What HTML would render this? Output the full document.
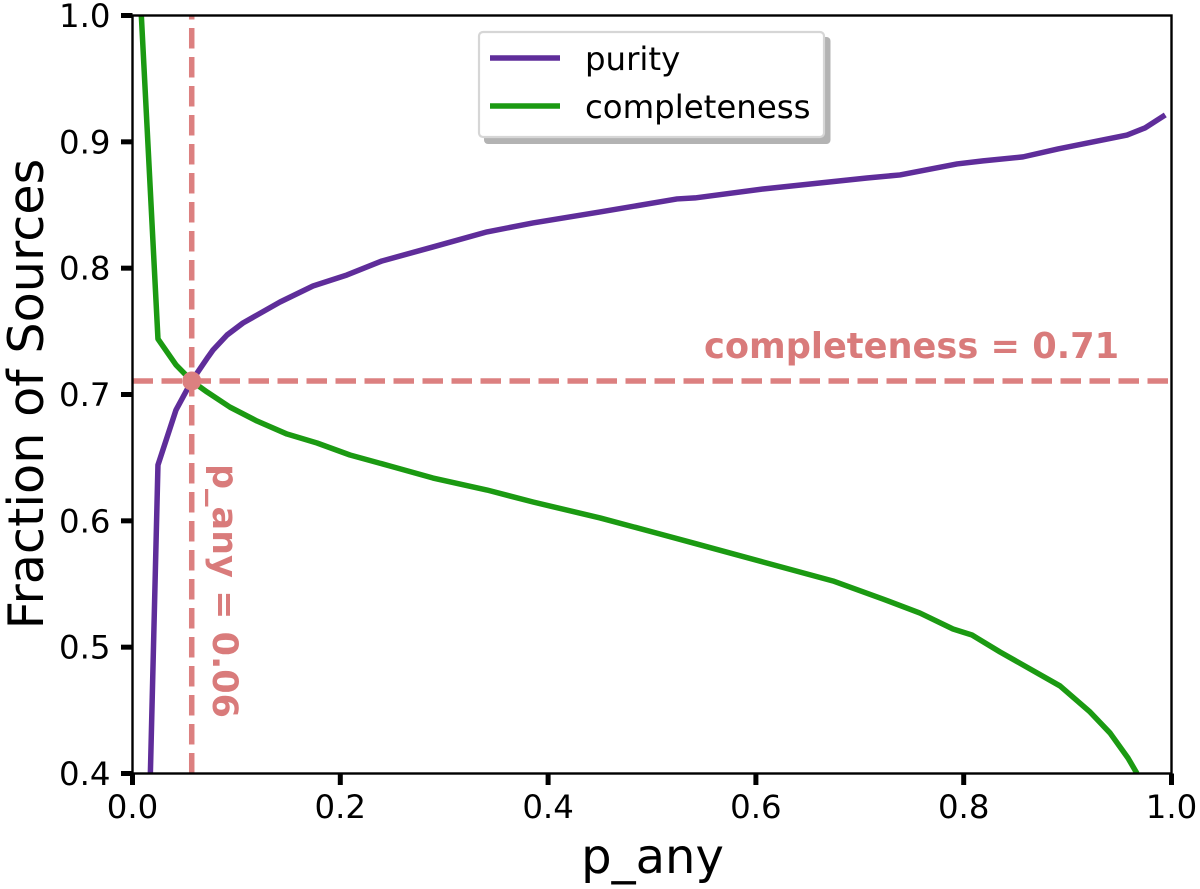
<!DOCTYPE html>
<html>
<head>
<meta charset="utf-8">
<style>
html,body{margin:0;padding:0;background:#fff;}
svg{display:block;}
text{font-family:"DejaVu Sans","Liberation Sans",sans-serif;fill:#000;}
</style>
</head>
<body>
<svg id="chart" xmlns="http://www.w3.org/2000/svg" width="1200" height="889" viewBox="0 0 1200 889">
  <defs><clipPath id="plot-clip"><rect x="132.5" y="15.5" width="1039" height="758"/></clipPath></defs>
  <rect x="0" y="0" width="1200" height="889" fill="#fff"/>
  <g id="marks" clip-path="url(#plot-clip)"></g>
  <g id="ticks"></g>
  <rect x="132.5" y="15.5" width="1039" height="758" fill="none" stroke="#000" stroke-width="2.4"/>
  <text x="652.5" y="873" font-size="48" text-anchor="middle">p_any</text>
  <text transform="translate(43,394) rotate(-90)" font-size="49.3" text-anchor="middle">Fraction of Sources</text>
  <text x="704" y="358" font-size="35.2" font-weight="700" style="fill:#d97b7b">completeness = 0.71</text>
  <text transform="translate(213,464) rotate(90)" font-size="35" font-weight="700" style="fill:#d97b7b">p_any = 0.06</text>
  <g>
    <rect x="484" y="37" width="346.5" height="107" rx="4" fill="#b3b3b3"/>
    <rect x="479" y="32" width="345" height="105" rx="4" fill="#fff" stroke="#d6d6d6" stroke-width="2.2"/>
    <line x1="490" y1="58" x2="560" y2="58" stroke="#5f2d9a" stroke-width="5.5"/>
    <text x="585" y="70" font-size="32.4">purity</text>
    <line x1="490" y1="106" x2="560" y2="106" stroke="#1b9a12" stroke-width="5.5"/>
    <text x="585" y="118" font-size="32.4">completeness</text>
  </g>
</svg>
<script>
const xTickValues = [0.0, 0.2, 0.4, 0.6, 0.8, 1.0];
const yTickValues = [0.4, 0.5, 0.6, 0.7, 0.8, 0.9, 1.0];
const purityX = [0.0172, 0.0245, 0.0419, 0.057, 0.0727, 0.0775, 0.091, 0.1063, 0.142, 0.1737, 0.2064, 0.2401, 0.2892, 0.3412, 0.3855, 0.45, 0.5241, 0.5414, 0.6068, 0.7069, 0.7387, 0.7936, 0.8186, 0.8571, 0.8908, 0.9572, 0.9745, 0.994];
const purityY = [0.40, 0.6442, 0.6878, 0.7107, 0.7297, 0.7352, 0.7471, 0.7566, 0.7732, 0.7859, 0.7946, 0.8057, 0.8168, 0.8287, 0.8358, 0.8445, 0.8548, 0.8556, 0.8627, 0.8714, 0.8738, 0.8825, 0.8849, 0.8881, 0.8944, 0.9054, 0.911, 0.9213];
const completenessX = [0.0085, 0.0245, 0.0419, 0.057, 0.0717, 0.0938, 0.1198, 0.1487, 0.1776, 0.2093, 0.2478, 0.2892, 0.3412, 0.3855, 0.45, 0.5077, 0.5395, 0.6068, 0.6742, 0.7223, 0.7579, 0.7897, 0.808, 0.835, 0.8927, 0.9216, 0.9408, 0.9581, 0.9668];
const completenessY = [1.0, 0.744, 0.7234, 0.7107, 0.702, 0.69, 0.679, 0.6687, 0.6616, 0.6521, 0.6434, 0.6339, 0.6244, 0.6149, 0.6023, 0.5896, 0.5825, 0.5674, 0.5524, 0.5381, 0.527, 0.5144, 0.5096, 0.4962, 0.4693, 0.4487, 0.4321, 0.4123, 0.40];
const thresholdX = 0.057;
const thresholdY = 0.7107;

const NS = 'http://www.w3.org/2000/svg';
function sx(v) { return 132.5 + v * 1039; }
function sy(v) { return 773.5 - (v - 0.4) / 0.6 * 758; }
function pathFrom(xs, ys) {
  return xs.map(function (x, i) { return (i ? 'L' : 'M') + sx(x).toFixed(2) + ' ' + sy(ys[i]).toFixed(2); }).join(' ');
}
const marks = document.getElementById('marks');
const ticks = document.getElementById('ticks');

function seriesPath(xs, ys, color) {
  const p = document.createElementNS(NS, 'path');
  p.setAttribute('d', pathFrom(xs, ys));
  p.setAttribute('fill', 'none');
  p.setAttribute('stroke', color);
  p.setAttribute('stroke-width', '5.5');
  p.setAttribute('stroke-linejoin', 'round');
  return p;
}
const purityLine = seriesPath(purityX, purityY, '#5f2d9a');


marks.appendChild(purityLine);
const completenessLine = seriesPath(completenessX, completenessY, '#1b9a12');


marks.appendChild(completenessLine);

const vLine = document.createElementNS(NS, 'line');


vLine.setAttribute('x1', sx(thresholdX));
vLine.setAttribute('x2', sx(thresholdX));
vLine.setAttribute('y1', sy(0.4));
vLine.setAttribute('y2', sy(1.0));
vLine.setAttribute('stroke', '#dc8080');
vLine.setAttribute('stroke-width', '5.5');
vLine.setAttribute('stroke-dasharray', '20.5 8.5');
marks.appendChild(vLine);

const hLine = document.createElementNS(NS, 'line');


hLine.setAttribute('x1', sx(0));
hLine.setAttribute('x2', sx(1));
hLine.setAttribute('y1', sy(thresholdY));
hLine.setAttribute('y2', sy(thresholdY));
hLine.setAttribute('stroke', '#dc8080');
hLine.setAttribute('stroke-width', '5.5');
hLine.setAttribute('stroke-dasharray', '20.5 8.5');
marks.appendChild(hLine);

const dot = document.createElementNS(NS, 'circle');


dot.setAttribute('cx', sx(thresholdX));
dot.setAttribute('cy', sy(thresholdY));
dot.setAttribute('r', '9.5');
dot.setAttribute('fill', '#dc8080');
marks.appendChild(dot);

xTickValues.forEach(function (v) {
  const t = document.createElementNS(NS, 'line');
  
  
  t.setAttribute('x1', sx(v));
  t.setAttribute('x2', sx(v));
  t.setAttribute('y1', 773.5);
  t.setAttribute('y2', 785);
  t.setAttribute('stroke', '#000');
  t.setAttribute('stroke-width', '5');
  ticks.appendChild(t);
  const l = document.createElementNS(NS, 'text');
  
  
  l.setAttribute('x', sx(v));
  l.setAttribute('y', 818);
  l.setAttribute('font-size', '32.4');
  l.setAttribute('text-anchor', 'middle');
  l.textContent = v.toFixed(1);
  ticks.appendChild(l);
});
yTickValues.forEach(function (v) {
  const t = document.createElementNS(NS, 'line');
  
  
  t.setAttribute('x1', 121);
  t.setAttribute('x2', 132.5);
  t.setAttribute('y1', sy(v));
  t.setAttribute('y2', sy(v));
  t.setAttribute('stroke', '#000');
  t.setAttribute('stroke-width', '5');
  ticks.appendChild(t);
  const l = document.createElementNS(NS, 'text');
  
  
  l.setAttribute('x', 110.5);
  l.setAttribute('y', sy(v) + 11.5);
  l.setAttribute('font-size', '32.4');
  l.setAttribute('text-anchor', 'end');
  l.textContent = v.toFixed(1);
  ticks.appendChild(l);
});
</script>
</body>
</html>
